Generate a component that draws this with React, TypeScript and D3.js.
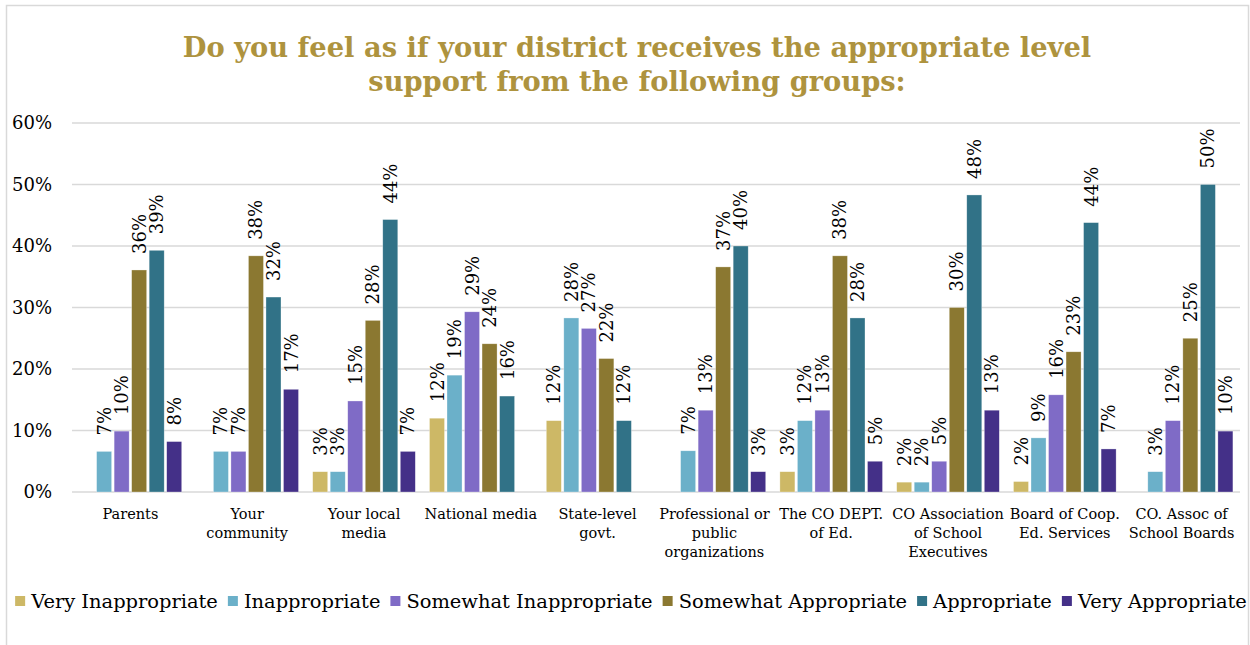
import React, { useEffect, useRef } from "react";
import * as d3 from "d3";

const categories = [
  ["Parents"],
  ["Your", "community"],
  ["Your local", "media"],
  ["National media"],
  ["State-level", "govt."],
  ["Professional or", "public", "organizations"],
  ["The CO DEPT.", "of Ed."],
  ["CO Association", "of School", "Executives"],
  ["Board of Coop.", "Ed. Services"],
  ["CO. Assoc of", "School Boards"],
];

const seriesNames = [
  "Very Inappropriate",
  "Inappropriate",
  "Somewhat Inappropriate",
  "Somewhat Appropriate",
  "Appropriate",
  "Very Appropriate",
];

const seriesColors = ["#cdb866", "#6bb0c9", "#7f6bc6", "#8b7831", "#317287", "#443088"];

// one array per series, one value per category (percent)
const veryInappropriate = [0, 0, 3.3, 12.0, 11.6, 0, 3.3, 1.6, 1.7, 0];
const inappropriate = [6.6, 6.6, 3.3, 19.0, 28.3, 6.7, 11.6, 1.6, 8.8, 3.3];
const somewhatInappropriate = [9.9, 6.6, 14.8, 29.3, 26.6, 13.3, 13.3, 5.0, 15.8, 11.6];
const somewhatAppropriate = [36.1, 38.4, 27.9, 24.1, 21.7, 36.6, 38.4, 30.0, 22.8, 25.0];
const appropriate = [39.3, 31.7, 44.3, 15.6, 11.6, 40.0, 28.3, 48.3, 43.8, 50.0];
const veryAppropriate = [8.2, 16.7, 6.6, 0, 0, 3.3, 5.0, 13.3, 7.0, 9.9];

const seriesValues = [
  veryInappropriate,
  inappropriate,
  somewhatInappropriate,
  somewhatAppropriate,
  appropriate,
  veryAppropriate,
];

const yTicks = [0, 10, 20, 30, 40, 50, 60];

const titleLines = [
  "Do you feel as if your district receives the appropriate level",
  "support from the following groups:",
];

const W = 1250;
const H = 645;
const FONT = "'DejaVu Serif', serif";

const App = () => {
  const legendRef = useRef<SVGGElement>(null);

  const x0 = d3
    .scaleBand()
    .domain(categories.map((c) => c.join(" ")))
    .range([72, 1240])
    .paddingInner(0.1)
    .paddingOuter(0.05);

  const x1 = d3
    .scaleBand()
    .domain(seriesNames)
    .range([0, x0.bandwidth()])
    .paddingInner(0.143)
    .paddingOuter(0.0715);

  const y = d3.scaleLinear().domain([0, 60]).range([492, 123]);

  // legend layout: measure each label, then centre the whole row
  useEffect(() => {
    const g = d3.select(legendRef.current);
    const items = g.selectAll<SVGGElement, unknown>("g.item");
    const widths: number[] = [];
    items.each(function () {
      const t = d3.select(this).select<SVGTextElement>("text").node();
      widths.push(t ? t.getComputedTextLength() : 0);
    });
    const total = widths.reduce((a, w) => a + 10 + 6 + w + 10, 0) - 10;
    let cx = 631 - total / 2;
    items.each(function (_, i) {
      d3.select(this).attr("transform", `translate(${cx},0)`);
      cx += 10 + 6 + widths[i] + 10;
    });
  }, []);

  return (
    <svg
      width={W}
      height={H}
      style={{ position: "absolute", left: 0, top: 0, background: "#fff" }}
      fontFamily={FONT}
    >
      {/* frame */}
      <path d={`M6.5,${H} V5.5 H1248.5 V${H}`} fill="none" stroke="#d9d9d9" strokeWidth={1.5} />

      {/* title */}
      {titleLines.map((line, i) => (
        <text
          key={i}
          x={637}
          y={57 + i * 34}
          textAnchor="middle"
          fontSize={27.3}
          fontWeight="bold"
          fill="#ae933e"
        >
          {line}
        </text>
      ))}

      {/* grid + y axis labels */}
      {yTicks.map((t) => (
        <g key={t}>
          <line x1={72} x2={1240} y1={y(t)} y2={y(t)} stroke="#d9d9d9" strokeWidth={1.5} />
          <text x={52} y={y(t)} dy="0.35em" textAnchor="end" fontSize={18} fill="#000">
            {t}%
          </text>
        </g>
      ))}

      {/* bars */}
      {categories.map((cat, ci) => {
        const key = cat.join(" ");
        return (
          <g key={key} transform={`translate(${x0(key)},0)`}>
            {seriesNames.map((s, si) => {
              const v = seriesValues[si][ci];
              if (!v) return null;
              const bx = x1(s) as number;
              return (
                <g key={s}>
                  <rect
                    x={bx}
                    y={y(v)}
                    width={x1.bandwidth()}
                    height={y(0) - y(v)}
                    fill={seriesColors[si]}
                    stroke="#ffffff"
                    strokeOpacity={0.5}
                    strokeWidth={0.6}
                  />
                  <text
                    transform={`translate(${bx + x1.bandwidth() / 2},${y(v) - 16}) rotate(-90)`}
                    dominantBaseline="central"
                    fontSize={18}
                    fill="#000"
                  >
                    {Math.round(v)}%
                  </text>
                </g>
              );
            })}
            {/* category label */}
            <text x={x0.bandwidth() / 2} y={519} textAnchor="middle" fontSize={14.5} fill="#000">
              {cat.map((line, li) => (
                <tspan key={li} x={x0.bandwidth() / 2} dy={li === 0 ? 0 : 19}>
                  {line}
                </tspan>
              ))}
            </text>
          </g>
        );
      })}

      {/* legend */}
      <g ref={legendRef} transform="translate(0,601)">
        {seriesNames.map((s, i) => (
          <g className="item" key={s}>
            <rect x={0} y={-5} width={10} height={10} fill={seriesColors[i]} />
            <text x={16} y={0} dy="0.35em" fontSize={19.45} fill="#000">
              {s}
            </text>
          </g>
        ))}
      </g>
    </svg>
  );
};

export default App;
